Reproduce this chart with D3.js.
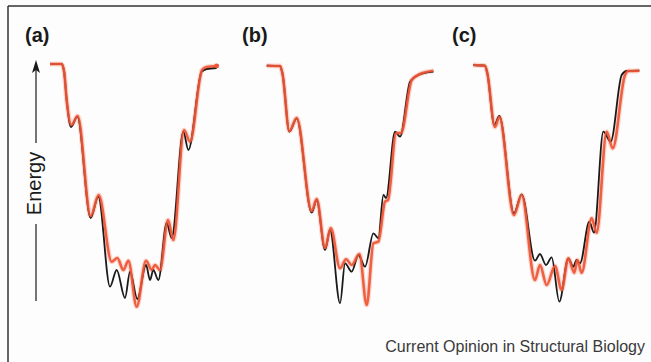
<!DOCTYPE html>
<html><head><meta charset="utf-8">
<script src="https://cdn.jsdelivr.net/npm/d3@7/dist/d3.min.js"></script>
<style>html,body{margin:0;padding:0;background:#fdfdfd;}svg{display:block;}</style>
</head><body>
<script>
// Reaction coordinate (0-100) and energy (0-250)
const panels = ["(a)", "(b)", "(c)"];
const aBlackX = [0, 7, 8.5, 10, 12.6, 16.4, 24.4, 29, 36, 40, 45, 48, 52.4, 57.6, 60, 62, 65, 70, 73, 80, 83, 91, 94, 100];
const aBlackE = [246, 246, 238, 210, 183, 193.3, 92, 113.3, 23.3, 40, 12, 38.3, 11, 45, 30, 40, 30, 87, 72, 178.3, 160, 238.3, 241, 242];
const aRedX = [0, 7, 8.5, 10, 12.8, 16.6, 24.4, 29.2, 37, 40.4, 44, 47, 52, 57.6, 61, 63, 66, 70.8, 74, 80.4, 84, 91.2, 94, 100];
const aRedE = [246, 246, 238, 210, 185, 194, 94, 115, 48.3, 52, 40, 49.3, 3.3, 49.3, 40, 45, 40, 90, 70, 180, 168.3, 240, 243, 244];
const bBlackX = [0, 8, 9.5, 13.6, 18, 27, 30, 35, 38, 44, 47, 51, 55, 59, 64, 67, 70, 71.6, 77, 80, 86, 91, 100];
const bBlackE = [244.3, 244, 236, 178.3, 191.7, 97.3, 110, 60, 80, 6.7, 46.7, 38.3, 55, 43.3, 76.7, 71.7, 115, 112, 178.3, 173.3, 228.3, 235, 238.3];
const bRedX = [0, 8, 9.5, 13.6, 18, 27, 30, 35, 38.4, 44, 47.6, 51, 55.6, 60, 64, 67, 71, 72.8, 77.6, 80.6, 87, 92, 100];
const bRedE = [244.3, 244, 236, 179, 192, 99, 111, 62, 82, 41.7, 50.7, 45, 56, 5, 66.7, 68.3, 108.3, 110, 176.7, 177, 230, 236, 239.3];
const cBlackX = [0, 7, 8.5, 12.6, 15.6, 24.4, 29, 37, 40, 43.6, 47, 51.6, 57, 60, 62, 64, 69.6, 72.4, 78, 82.4, 89, 92, 99.6];
const cBlackE = [245, 244.3, 236, 185, 194, 96.7, 115.7, 49.3, 56, 45, 52.7, 8.3, 51.7, 43.3, 50, 46.7, 88.3, 77.3, 178.3, 168.3, 235, 239, 239.3];
const cRedX = [0, 7, 8.5, 13, 15.6, 24.4, 29, 37, 40, 44, 49, 53, 57, 60.6, 62.4, 65, 71, 74, 80, 83.6, 91, 93, 99.6];
const cRedE = [245, 244.3, 236, 183, 193, 95, 115, 30, 45, 25, 44, 20, 51.7, 37.3, 50, 37.3, 91.7, 77.3, 178.3, 161.7, 235, 239, 239.3];
const curves = [[aBlackX, aBlackE, aRedX, aRedE], [bBlackX, bBlackE, bRedX, bRedE], [cBlackX, cBlackE, cRedX, cRedE]];
const axisLabel = "Energy";
const credit = "Current Opinion in Structural Biology";

const W = 651, H = 362;
const FONT = "Liberation Sans, Arial, Helvetica, sans-serif";
const svg = d3.select("body").append("svg").attr("width", W).attr("height", H);
svg.append("rect").attr("width", W).attr("height", H).attr("fill", "#fdfdfd");
// frame (top & left)
svg.append("line").attr("x1", 8).attr("x2", W).attr("y1", 6).attr("y2", 6).attr("stroke", "#333").attr("stroke-width", 1.5);
svg.append("line").attr("x1", 8).attr("x2", 8).attr("y1", 6).attr("y2", H).attr("stroke", "#333").attr("stroke-width", 1.5);

const panelX0 = [50, 266.7, 473.3];
const labelX = [25, 242, 452];
const y = d3.scaleLinear().domain([0, 250]).range([310, 60]);

panels.forEach((lab, i) => {
  const x = d3.scaleLinear().domain([0, 100]).range([panelX0[i], panelX0[i] + 166.7]);
  const line = d3.line().x(d => x(d[0])).y(d => y(d[1])).curve(d3.curveMonotoneX);
  const [bx, be, rx, re] = curves[i];
  const blk = bx.map((v, k) => [v, be[k]]);
  const red = rx.map((v, k) => [v, re[k]]);
  const g = svg.append("g");
  g.append("path").attr("d", line(red)).attr("fill", "none").attr("stroke", "#f5a08c").attr("stroke-width", 5).attr("stroke-opacity", 0.4).attr("stroke-linejoin", "round");
  g.append("path").attr("d", line(blk)).attr("fill", "none").attr("stroke", "#1a1a1a").attr("stroke-width", 1.8).attr("stroke-linejoin", "round");
  g.append("path").attr("d", line(red)).attr("fill", "none").attr("stroke", "#ee5535").attr("stroke-width", 2.6).attr("stroke-opacity", 0.92).attr("stroke-linejoin", "round");
  if (i === 0) {
    const last = red[red.length - 1];
    g.append("circle").attr("cx", x(last[0])).attr("cy", y(last[1])).attr("r", 2.4).attr("fill", "#ee5535");
  }
  svg.append("text").attr("x", labelX[i]).attr("y", 42).text(lab)
    .attr("font-family", FONT).attr("font-weight", "bold")
    .attr("font-size", 20).attr("fill", "#1a1a1a");
});

// Energy axis arrow
const ax = 36;
svg.append("line").attr("x1", ax).attr("x2", ax).attr("y1", 301).attr("y2", 224).attr("stroke", "#1a1a1a").attr("stroke-width", 1.2);
svg.append("line").attr("x1", ax).attr("x2", ax).attr("y1", 143).attr("y2", 70).attr("stroke", "#1a1a1a").attr("stroke-width", 1.2);
svg.append("path").attr("d", `M${ax},60 L${ax - 4},73 L${ax},70 L${ax + 4},73 Z`).attr("fill", "#1a1a1a");
svg.append("text").attr("transform", `translate(${ax + 5},183.5) rotate(-90)`).attr("text-anchor", "middle")
  .attr("font-family", FONT).attr("font-size", 20).attr("fill", "#1a1a1a").text(axisLabel);

svg.append("text").attr("x", 645).attr("y", 352).attr("text-anchor", "end")
  .attr("font-family", FONT).attr("font-size", 16).attr("fill", "#3a3a3a").text(credit);
</script>
</body></html>
